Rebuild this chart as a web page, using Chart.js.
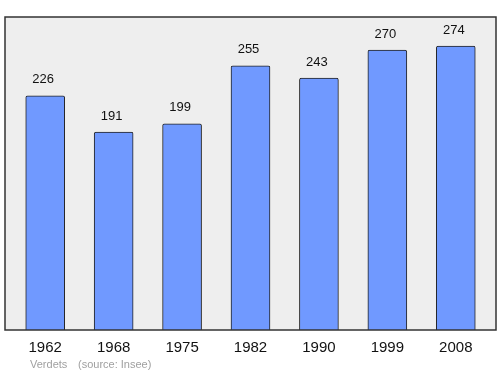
<!DOCTYPE html>
<html><head><meta charset="utf-8">
<script src="https://cdn.jsdelivr.net/npm/chart.js@4"></script>
<style>html,body{margin:0;padding:0;background:#fff}#c{display:block}</style>
</head><body>
<canvas id="c" width="500" height="374"></canvas>
<script>
const years = ['1962','1968','1975','1982','1990','1999','2008'];
const population = [226, 191, 199, 255, 243, 270, 274];
const footerPlace = 'Verdets';
const footerSource = '(source: Insee)';

const frame = {
  id: 'frame',
  beforeDraw(chart) {
    const {ctx, chartArea: a} = chart;
    ctx.save();
    ctx.fillStyle = '#eeeeee';
    ctx.fillRect(a.left - 6, a.top, a.right - a.left + 12, a.bottom - a.top);
    ctx.restore();
  },
  afterDatasetsDraw(chart) {
    const {ctx, chartArea: a} = chart;
    ctx.save();
    ctx.strokeStyle = '#333333';
    ctx.lineWidth = 1.5;
    ctx.strokeRect(a.left - 6, a.top, a.right - a.left + 12, a.bottom - a.top);
    const meta = chart.getDatasetMeta(0);
    ctx.fillStyle = '#111';
    ctx.font = '13px "Liberation Sans", Arial, sans-serif';
    ctx.textAlign = 'center';
    ctx.textBaseline = 'middle';
    meta.data.forEach((bar, i) => {
      ctx.fillText(String(population[i]), bar.x - 2, bar.y - 16);
    });
    ctx.fillStyle = '#a0a0a0';
    ctx.font = '11px "Liberation Sans", Arial, sans-serif';
    ctx.textAlign = 'left';
    ctx.fillText(footerPlace, 30, 365);
    ctx.fillText(footerSource, 78, 365);
    ctx.restore();
  }
};

new Chart(document.getElementById('c'), {
  type: 'bar',
  data: {
    labels: years,
    datasets: [{
      data: population,
      backgroundColor: '#7099ff',
      borderColor: '#222222',
      borderWidth: 1,
      borderRadius: 2,
      borderSkipped: 'bottom',
      barThickness: 39
    }]
  },
  options: {
    responsive: false,
    animation: false,
    layout: {padding: {left: 11, right: 10, top: 17, bottom: 0}},
    plugins: {legend: {display: false}, tooltip: {enabled: false}},
    scales: {
      y: {display: false, min: 0, max: 302},
      x: {
        grid: {display: false, drawTicks: false},
        border: {display: false},
        ticks: {color: '#111', font: {size: 15, family: '"Liberation Sans", Arial, sans-serif'}, padding: 9},
        afterFit(scale) { scale.height = 44; }
      }
    }
  },
  plugins: [frame]
});
</script>
</body></html>
